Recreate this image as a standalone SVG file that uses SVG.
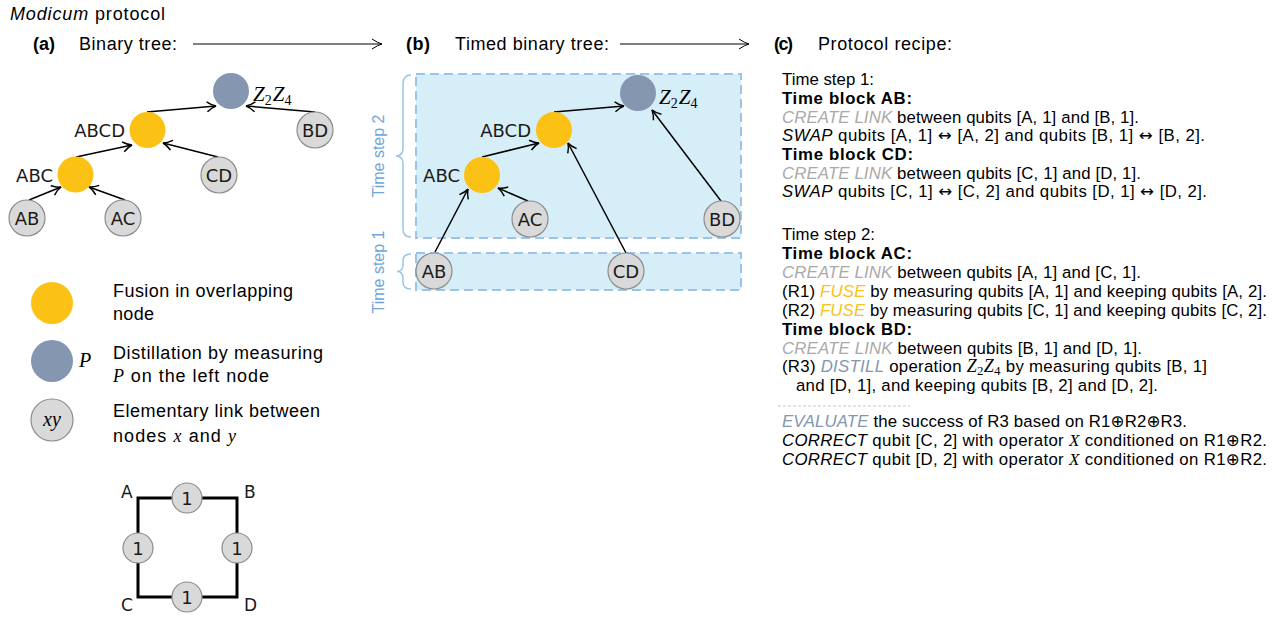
<svg xmlns="http://www.w3.org/2000/svg" width="1283" height="618" viewBox="0 0 1283 618">
<style>
.t{font-family:"Liberation Sans",Arial,sans-serif;fill:#000}
.hd{font-size:18px}
.b{font-weight:bold}
.i{font-style:italic}
.lg{font-size:18px}
.rc{font-size:16.8px}
.nl{font-family:"DejaVu Sans",sans-serif;font-size:18px;text-anchor:middle;fill:#1a1a1a}
.lbl{font-family:"DejaVu Sans",sans-serif;font-size:18px;text-anchor:end;fill:#1a1a1a}
.sq{font-family:"DejaVu Sans",sans-serif;font-size:17px;fill:#1a1a1a}
.m{font-family:"Liberation Serif",serif;font-style:italic}
.sub{font-style:normal;font-size:14px}
.sub2{font-family:"Liberation Serif",serif;font-style:normal;font-size:13px}
.ar{font-family:"DejaVu Sans",sans-serif}
.op{font-family:"DejaVu Sans",sans-serif;font-size:16.8px}
.el{fill:#d9d9d9;stroke:#8c8c8c;stroke-width:1.2}
.fu{fill:#fbc114}
.di{fill:#8496b0}
.ed{stroke:#000;stroke-width:1.5;fill:none;marker-end:url(#ah)}
.hx{stroke:#000;stroke-width:1;fill:none;marker-end:url(#ah2)}
.box{fill:#d6eef8;stroke:#9dc3e6;stroke-width:2;stroke-dasharray:9 5}
.br{fill:none;stroke:#9dc3e6;stroke-width:1.5}
.ts{font-family:"Liberation Sans",Arial,sans-serif;font-size:16px;fill:#6fa6da;text-anchor:middle}
.gr{fill:#a9a9a9}
.yl{fill:#fbc114}
.bl{fill:#8496b0}
</style>
<defs>
<marker id="ah" viewBox="-11 -7 13 14" refX="0" refY="0" markerWidth="13" markerHeight="14" markerUnits="userSpaceOnUse" orient="auto">
<path d="M-9,-5 Q-4,-1 0,0 Q-4,1 -9,5" fill="none" stroke="#000" stroke-width="1.5"/>
</marker>
<marker id="ah2" viewBox="-11 -7 13 14" refX="0" refY="0" markerWidth="13" markerHeight="14" markerUnits="userSpaceOnUse" orient="auto">
<path d="M-10,-5 Q-4,-1 0,0 Q-4,1 -10,5" fill="none" stroke="#000" stroke-width="1"/>
</marker>
</defs>

<g id="header">
<text class="t hd" x="10" y="20" textLength="155" lengthAdjust="spacing"><tspan class="i">Modicum</tspan> protocol</text>
<text class="t hd b" x="33" y="50" textLength="22" lengthAdjust="spacing">(a)</text>
<text class="t hd" x="79" y="50" textLength="98" lengthAdjust="spacing">Binary tree:</text>
<text class="t hd b" x="406" y="50" textLength="24" lengthAdjust="spacing">(b)</text>
<text class="t hd" x="455" y="50" textLength="154" lengthAdjust="spacing">Timed binary tree:</text>
<text class="t hd b" x="774" y="50" textLength="19" lengthAdjust="spacing">(c)</text>
<text class="t hd" x="818" y="50" textLength="134" lengthAdjust="spacing">Protocol recipe:</text>
<line class="hx" x1="193" y1="44" x2="382" y2="44"/>
<line class="hx" x1="620" y1="44" x2="749" y2="44"/>
</g>

<g id="connectors">
<line class="ed" x1="29" y1="200" x2="61" y2="187"/>
<line class="ed" x1="125" y1="200" x2="89" y2="187"/>
<line class="ed" x1="76" y1="157" x2="132" y2="145"/>
<line class="ed" x1="218" y1="157" x2="163" y2="143"/>
<line class="ed" x1="147" y1="112" x2="216" y2="106"/>
<line class="ed" x1="315" y1="112" x2="246" y2="106"/>
</g>

<g id="a-root"><circle class="di" cx="231" cy="91" r="18"/>
<text class="m" x="253" y="101" font-size="21">Z<tspan class="sub" dy="4">2</tspan><tspan dy="-4" dx="1">Z</tspan><tspan class="sub" dy="4">4</tspan></text></g>
<g id="a-abcd"><circle class="fu" cx="147.5" cy="130" r="18"/><text class="lbl" x="125" y="137">ABCD</text></g>
<g id="a-bd"><circle class="el" cx="315" cy="130" r="18"/><text class="nl" x="315" y="136.5">BD</text></g>
<g id="a-cd"><circle class="el" cx="219" cy="175" r="18"/><text class="nl" x="219" y="181.5">CD</text></g>
<g id="a-abc"><circle class="fu" cx="75.5" cy="174.5" r="18"/><text class="lbl" x="53" y="181.5">ABC</text></g>
<g id="a-ab"><circle class="el" cx="27" cy="218" r="18"/><text class="nl" x="27" y="224.5">AB</text></g>
<g id="a-ac"><circle class="el" cx="123" cy="218" r="18"/><text class="nl" x="123" y="224.5">AC</text></g>

<g id="legend">
<circle class="fu" cx="52" cy="303" r="21"/>
<circle class="di" cx="52" cy="361" r="21"/>
<text class="m" x="79" y="367" font-size="20">P</text>
<circle class="el" cx="52" cy="420" r="21"/>
<text class="m" x="52" y="426" font-size="20" text-anchor="middle">xy</text>
<text class="t lg" x="113" y="297" textLength="180" lengthAdjust="spacing">Fusion in overlapping</text>
<text class="t lg" x="113" y="320" textLength="41" lengthAdjust="spacing">node</text>
<text class="t lg" x="113" y="359" textLength="210" lengthAdjust="spacing">Distillation by measuring</text>
<text class="t lg" x="113" y="382" textLength="156" lengthAdjust="spacing"><tspan class="m">P</tspan> on the left node</text>
<text class="t lg" x="113" y="417" textLength="207" lengthAdjust="spacing">Elementary link between</text>
<text class="t lg" x="113" y="442" textLength="123" lengthAdjust="spacing">nodes <tspan class="m">x</tspan> and <tspan class="m">y</tspan></text>
</g>

<g id="square">
<rect x="138" y="498" width="99" height="99" fill="none" stroke="#000" stroke-width="3"/>
<circle class="el" cx="187" cy="498" r="15"/><text class="nl" x="187" y="504.5">1</text>
<circle class="el" cx="138" cy="548" r="15"/><text class="nl" x="138" y="554.5">1</text>
<circle class="el" cx="237" cy="548" r="15"/><text class="nl" x="237" y="554.5">1</text>
<circle class="el" cx="187" cy="597" r="15"/><text class="nl" x="187" y="603.5">1</text>
<text class="sq" x="121" y="498">A</text>
<text class="sq" x="244" y="498">B</text>
<text class="sq" x="121" y="611">C</text>
<text class="sq" x="244" y="611">D</text>
</g>

<g id="timed-boxes">
<rect class="box" x="416" y="74" width="325" height="164"/>
<rect class="box" x="416" y="253" width="325" height="37"/>
<path class="br" d="M411,75 Q403,75 403,84 L403,148 Q403,156 396,156 Q403,156 403,164 L403,229 Q403,237 411,237"/>
<path class="br" d="M411,254 Q403,254 403,261 L403,265 Q403,271.5 397,271.5 Q403,271.5 403,278 L403,282 Q403,289 411,289"/>
<text class="ts" transform="translate(384,156) rotate(-90)">Time step 2</text>
<text class="ts" transform="translate(384,272) rotate(-90)">Time step 1</text>
</g>

<g id="connectors-b">
<line class="ed" x1="435" y1="252" x2="468" y2="189"/>
<line class="ed" x1="528" y1="201" x2="498" y2="188"/>
<line class="ed" x1="482" y1="157" x2="539" y2="143"/>
<line class="ed" x1="626" y1="253" x2="568" y2="143"/>
<line class="ed" x1="554" y1="112" x2="624" y2="106"/>
<line class="ed" x1="721" y1="201" x2="652" y2="110"/>
</g>

<g id="b-root"><circle class="di" cx="638" cy="93" r="18"/>
<text class="m" x="659" y="104" font-size="21">Z<tspan class="sub" dy="4">2</tspan><tspan dy="-4" dx="1">Z</tspan><tspan class="sub" dy="4">4</tspan></text></g>
<g id="b-abcd"><circle class="fu" cx="554" cy="130" r="18"/><text class="lbl" x="531" y="137">ABCD</text></g>
<g id="b-abc"><circle class="fu" cx="482" cy="175" r="18"/><text class="lbl" x="460" y="182">ABC</text></g>
<g id="b-ac"><circle class="el" cx="530" cy="219" r="18"/><text class="nl" x="530" y="225.5">AC</text></g>
<g id="b-bd"><circle class="el" cx="722" cy="219" r="18"/><text class="nl" x="722" y="225.5">BD</text></g>
<g id="b-ab"><circle class="el" cx="434" cy="271" r="18"/><text class="nl" x="434" y="277.5">AB</text></g>
<g id="b-cd"><circle class="el" cx="626" cy="271" r="18"/><text class="nl" x="626" y="277.5">CD</text></g>

<g id="recipe">
<text class="t rc" x="782" y="85" textLength="92" lengthAdjust="spacing">Time step 1:</text>
<text class="t rc b" x="782" y="104" textLength="130" lengthAdjust="spacing">Time block AB:</text>
<text class="t rc" x="782" y="122.5" textLength="357" lengthAdjust="spacing"><tspan class="i gr">CREATE LINK</tspan> between qubits [A, 1] and [B, 1].</text>
<text class="t rc" x="782" y="141" textLength="423" lengthAdjust="spacing"><tspan class="i">SWAP</tspan> qubits [A, 1] <tspan class="ar">↔</tspan> [A, 2] and qubits [B, 1] <tspan class="ar">↔</tspan> [B, 2].</text>
<text class="t rc b" x="782" y="160" textLength="131" lengthAdjust="spacing">Time block CD:</text>
<text class="t rc" x="782" y="178.5" textLength="359" lengthAdjust="spacing"><tspan class="i gr">CREATE LINK</tspan> between qubits [C, 1] and [D, 1].</text>
<text class="t rc" x="782" y="197" textLength="425" lengthAdjust="spacing"><tspan class="i">SWAP</tspan> qubits [C, 1] <tspan class="ar">↔</tspan> [C, 2] and qubits [D, 1] <tspan class="ar">↔</tspan> [D, 2].</text>

<text class="t rc" x="782" y="240" textLength="93" lengthAdjust="spacing">Time step 2:</text>
<text class="t rc b" x="782" y="259" textLength="130" lengthAdjust="spacing">Time block AC:</text>
<text class="t rc" x="782" y="278" textLength="359" lengthAdjust="spacing"><tspan class="i gr">CREATE LINK</tspan> between qubits [A, 1] and [C, 1].</text>
<text class="t rc" x="782" y="297" textLength="485" lengthAdjust="spacing">(R1) <tspan class="i yl">FUSE</tspan> by measuring qubits [A, 1] and keeping qubits [A, 2].</text>
<text class="t rc" x="782" y="315.5" textLength="485" lengthAdjust="spacing">(R2) <tspan class="i yl">FUSE</tspan> by measuring qubits [C, 1] and keeping qubits [C, 2].</text>
<text class="t rc b" x="782" y="334.5" textLength="130" lengthAdjust="spacing">Time block BD:</text>
<text class="t rc" x="782" y="353.5" textLength="360" lengthAdjust="spacing"><tspan class="i gr">CREATE LINK</tspan> between qubits [B, 1] and [D, 1].</text>
<text class="t rc" x="782" y="372" textLength="425" lengthAdjust="spacing">(R3) <tspan class="i bl">DISTILL</tspan> operation <tspan class="m" font-size="18">Z</tspan><tspan class="sub2" dy="3">2</tspan><tspan class="m" font-size="18" dy="-3">Z</tspan><tspan class="sub2" dy="3">4</tspan><tspan dy="-3"> by measuring qubits [B, 1]</tspan></text>
<text class="t rc" x="796" y="391" textLength="362" lengthAdjust="spacing">and [D, 1], and keeping qubits [B, 2] and [D, 2].</text>
<line x1="778" y1="406" x2="910" y2="406" stroke="#c8c8c8" stroke-width="1" stroke-dasharray="3 2"/>
<text class="t rc" x="782" y="427" textLength="405" lengthAdjust="spacing"><tspan class="i bl">EVALUATE</tspan> the success of R3 based on R1<tspan class="op">⊕</tspan>R2<tspan class="op">⊕</tspan>R3.</text>
<text class="t rc" x="782" y="446" textLength="485" lengthAdjust="spacing"><tspan class="i">CORRECT</tspan> qubit [C, 2] with operator <tspan class="m" font-size="17">X</tspan> conditioned on R1<tspan class="op">⊕</tspan>R2.</text>
<text class="t rc" x="782" y="465" textLength="485" lengthAdjust="spacing"><tspan class="i">CORRECT</tspan> qubit [D, 2] with operator <tspan class="m" font-size="17">X</tspan> conditioned on R1<tspan class="op">⊕</tspan>R2.</text>
</g>
</svg>
